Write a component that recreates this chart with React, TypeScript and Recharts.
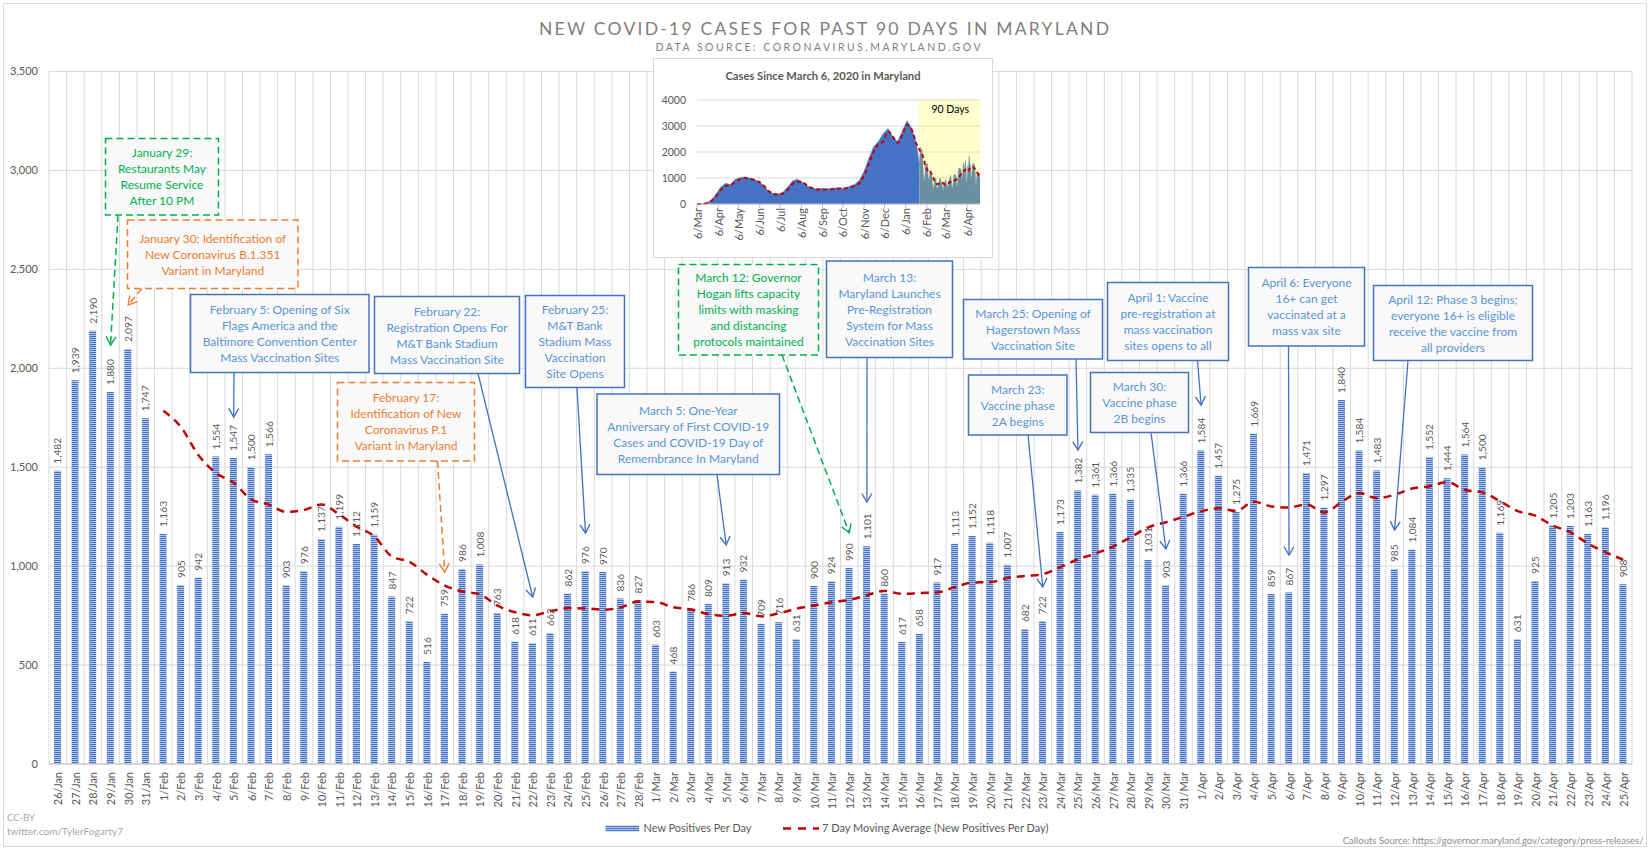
import React from "react";
import {
  Area,
  Bar,
  CartesianGrid,
  ComposedChart,
  LabelList,
  Line,
  ReferenceArea,
  XAxis,
  YAxis,
} from "recharts";

// ---- main chart data (last 90 days) ----
const dates = [
  "26/Jan", "27/Jan", "28/Jan", "29/Jan", "30/Jan", "31/Jan",
  "1/Feb", "2/Feb", "3/Feb", "4/Feb", "5/Feb", "6/Feb", "7/Feb", "8/Feb", "9/Feb", "10/Feb",
  "11/Feb", "12/Feb", "13/Feb", "14/Feb", "15/Feb", "16/Feb", "17/Feb", "18/Feb", "19/Feb", "20/Feb",
  "21/Feb", "22/Feb", "23/Feb", "24/Feb", "25/Feb", "26/Feb", "27/Feb", "28/Feb",
  "1/Mar", "2/Mar", "3/Mar", "4/Mar", "5/Mar", "6/Mar", "7/Mar", "8/Mar", "9/Mar", "10/Mar",
  "11/Mar", "12/Mar", "13/Mar", "14/Mar", "15/Mar", "16/Mar", "17/Mar", "18/Mar", "19/Mar", "20/Mar",
  "21/Mar", "22/Mar", "23/Mar", "24/Mar", "25/Mar", "26/Mar", "27/Mar", "28/Mar", "29/Mar", "30/Mar", "31/Mar",
  "1/Apr", "2/Apr", "3/Apr", "4/Apr", "5/Apr", "6/Apr", "7/Apr", "8/Apr", "9/Apr", "10/Apr",
  "11/Apr", "12/Apr", "13/Apr", "14/Apr", "15/Apr", "16/Apr", "17/Apr", "18/Apr", "19/Apr", "20/Apr",
  "21/Apr", "22/Apr", "23/Apr", "24/Apr", "25/Apr",
];

const newPositives = [
  1482, 1939, 2190, 1880, 2097, 1747,
  1163, 905, 942, 1554, 1547, 1500, 1566, 903, 976, 1137, 1199, 1112, 1159, 847,
  722, 516, 759, 986, 1008, 763, 618, 611, 662, 862, 976, 970, 836, 827,
  603, 468, 786, 809, 913, 932, 709, 716, 631, 900, 924, 990, 1101, 860, 617, 658,
  917, 1113, 1152, 1118, 1007, 682, 722, 1173, 1382, 1361, 1366, 1335, 1031, 903, 1366,
  1584, 1457, 1275, 1669, 859, 867, 1471, 1297, 1840, 1584, 1483, 985, 1084, 1552, 1444,
  1564, 1500, 1169, 631, 925, 1205, 1203, 1163, 1196, 908,
];

const movingAverage = [
  null, null, null, null, null, null,
  1785, 1703, 1561, 1470, 1422, 1337, 1311, 1274, 1284, 1312, 1261, 1199, 1150, 1048,
  1022, 956, 902, 872, 857, 800, 767, 752, 772, 787, 786, 780, 791, 821,
  819, 792, 781, 757, 749, 763, 746, 762, 785, 801, 818, 829, 853, 875, 860, 864,
  867, 894, 917, 919, 940, 950, 959, 995, 1034, 1064, 1099, 1146, 1196, 1222, 1249,
  1278, 1292, 1279, 1326, 1302, 1297, 1312, 1271, 1325, 1370, 1343, 1361, 1392, 1404, 1425,
  1385, 1373, 1328, 1278, 1255, 1205, 1171, 1114, 1070, 1033,
];

const yTicks = [0, 500, 1000, 1500, 2000, 2500, 3000, 3500];

// ---- inset data (since March 6, 2020), weekly readings before the 90-day window ----
const insetWeekDays = [
  0, 7, 14, 21, 28, 35, 42, 49, 56, 63, 70, 77, 84, 91, 98, 105, 112, 119, 126, 133, 140, 147, 154, 161,
  168, 175, 182, 189, 196, 203, 210, 217, 224, 231, 238, 245, 252, 259, 266, 273, 280, 287, 294, 301, 308, 315, 322,
];
const insetWeekCases = [
  2, 5, 40, 150, 380, 650, 800, 750, 950, 1000, 1050, 1000, 950, 850, 700, 480, 400, 380, 450, 650, 880, 950, 850, 700,
  620, 580, 600, 580, 600, 620, 600, 620, 680, 750, 900, 1250, 1750, 2200, 2400, 2700, 2900, 2600, 2400, 2800, 3200, 2900, 2300,
];
const insetWeekAverage = [
  0, 5, 30, 120, 300, 550, 700, 720, 850, 950, 1000, 980, 920, 850, 700, 500, 400, 360, 400, 560, 760, 860, 850, 720,
  620, 560, 560, 560, 560, 590, 600, 600, 640, 700, 800, 1100, 1550, 2000, 2300, 2400, 2800, 2600, 2350, 2650, 3050, 2850, 2300,
];
const windowStartDay = 326; // 26 Jan 2021, days since 6 Mar 2020
const insetYTicks = [0, 1000, 2000, 3000, 4000];
const insetTickDays = [0, 31, 61, 92, 122, 153, 184, 214, 245, 275, 306, 337, 365, 396];
const insetTickLabels = ["6/Mar", "6/Apr", "6/May", "6/Jun", "6/Jul", "6/Aug", "6/Sep", "6/Oct", "6/Nov", "6/Dec", "6/Jan", "6/Feb", "6/Mar", "6/Apr"];

const rows = dates.map((date, i) => ({ date, cases: newPositives[i], ma: movingAverage[i] }));

const insetRows = [
  ...insetWeekDays.map((day, i) => ({ day, early: insetWeekCases[i], ma: insetWeekAverage[i] })),
  ...newPositives.map((v, i) => ({
    day: windowStartDay + i,
    early: i === 0 ? v : undefined,
    late: v,
    ma: movingAverage[i] ?? undefined,
  })),
];

// ---- layout ----
const W = 1650;
const H = 849;
const PLOT_LEFT = 49;
const PLOT_RIGHT = 1632;
const PLOT_TOP = 71.5;
const PLOT_BOTTOM = 764;
const FONT = "Lato, 'Open Sans', sans-serif";
const BLUE = "#4472C4";
const STRIPE_LIGHT = "#B4C6EA";
const BOX_BLUE_TEXT = "#5B95D5";
const GREEN = "#00B050";
const ORANGE = "#ED7D31";

const band = (PLOT_RIGHT - PLOT_LEFT) / dates.length;
const xOfDay = (label: string) => PLOT_LEFT + (dates.indexOf(label) + 0.5) * band;

type Callout = {
  lines: string[];
  x: number;
  y: number;
  w: number;
  h: number;
  kind: "blue" | "green" | "orange";
  from: [number, number];
  day: string;
  tipY: number;
};

const callouts: Callout[] = [
  { lines: ["January 29:", "Restaurants May", "Resume Service", "After 10 PM"], x: 105.5, y: 138.5, w: 113, h: 76.5, kind: "green", from: [118, 215], day: "29/Jan", tipY: 345 },
  { lines: ["January 30: Identification of", "New Coronavirus B.1.351", "Variant in Maryland"], x: 127.5, y: 220, w: 170.5, h: 68.5, kind: "orange", from: [142, 288.5], day: "30/Jan", tipY: 305 },
  { lines: ["February 5: Opening of Six", "Flags America and the", "Baltimore Convention Center", "Mass Vaccination Sites"], x: 190.5, y: 294.5, w: 178.5, h: 78, kind: "blue", from: [234, 372.5], day: "5/Feb", tipY: 417 },
  { lines: ["February 22:", "Registration Opens For", "M&T Bank Stadium", "Mass Vaccination Site"], x: 374.5, y: 296.5, w: 145, h: 77, kind: "blue", from: [478, 373.5], day: "22/Feb", tipY: 597 },
  { lines: ["February 17:", "Identification of New", "Coronavirus P.1", "Variant in Maryland"], x: 337.5, y: 382.5, w: 137, h: 78.5, kind: "orange", from: [437.5, 461], day: "17/Feb", tipY: 572 },
  { lines: ["February 25:", "M&T Bank", "Stadium Mass", "Vaccination", "Site Opens"], x: 525.5, y: 295.5, w: 99, h: 92, kind: "blue", from: [577, 387.5], day: "25/Feb", tipY: 533 },
  { lines: ["March 5: One-Year", "Anniversary of First COVID-19", "Cases and COVID-19 Day of", "Remembrance In Maryland"], x: 597, y: 394, w: 182.5, h: 80.5, kind: "blue", from: [717, 474.5], day: "5/Mar", tipY: 545 },
  { lines: ["March 12: Governor", "Hogan lifts capacity", "limits with masking", "and distancing", "protocols maintained"], x: 678.5, y: 264.5, w: 140, h: 90.5, kind: "green", from: [782, 355], day: "12/Mar", tipY: 533 },
  { lines: ["March 13:", "Maryland Launches", "Pre-Registration", "System for Mass", "Vaccination Sites"], x: 826.5, y: 261, w: 126, h: 96.5, kind: "blue", from: [867, 357.5], day: "13/Mar", tipY: 502 },
  { lines: ["March 25: Opening of", "Hagerstown Mass", "Vaccination Site"], x: 963.5, y: 299.5, w: 139, h: 59.5, kind: "blue", from: [1076, 359], day: "25/Mar", tipY: 450 },
  { lines: ["March 23:", "Vaccine phase", "2A begins"], x: 968.5, y: 375, w: 98.5, h: 60, kind: "blue", from: [1028, 435], day: "23/Mar", tipY: 587 },
  { lines: ["April 1: Vaccine", "pre-registration at", "mass vaccination", "sites opens to all"], x: 1107.5, y: 282.5, w: 121, h: 78, kind: "blue", from: [1197.5, 360.5], day: "1/Apr", tipY: 405 },
  { lines: ["March 30:", "Vaccine phase", "2B begins"], x: 1090.5, y: 372.5, w: 98, h: 60, kind: "blue", from: [1151, 432.5], day: "30/Mar", tipY: 549 },
  { lines: ["April 6: Everyone", "16+ can get", "vaccinated at a", "mass vax site"], x: 1248.5, y: 267.5, w: 116, h: 78.5, kind: "blue", from: [1288.5, 346], day: "6/Apr", tipY: 555 },
  { lines: ["April 12: Phase 3 begins;", "everyone 16+ is eligible", "receive the vaccine from", "all providers"], x: 1373.5, y: 285.5, w: 159, h: 75, kind: "blue", from: [1408, 360.5], day: "12/Apr", tipY: 530 },
];

const styleOf = (kind: Callout["kind"]) =>
  kind === "green"
    ? { stroke: GREEN, text: GREEN, dash: "7 4", marker: "url(#arrow-green)" }
    : kind === "orange"
    ? { stroke: ORANGE, text: ORANGE, dash: "7 4", marker: "url(#arrow-orange)" }
    : { stroke: BLUE, text: BOX_BLUE_TEXT, dash: undefined, marker: "url(#arrow-blue)" };

const DateTick = (props: any) => {
  const { x, y, payload } = props;
  return (
    <text
      x={x}
      y={y}
      transform={`rotate(-90 ${x} ${y})`}
      textAnchor="end"
      dominantBaseline="central"
      fontSize={11}
      fontFamily={FONT}
      fill="#595959"
    >
      {payload.value}
    </text>
  );
};

const InsetTick = (props: any) => {
  const { x, y, payload } = props;
  const label = insetTickLabels[insetTickDays.indexOf(payload.value)] ?? "";
  return (
    <text
      x={x}
      y={y}
      transform={`rotate(-90 ${x} ${y})`}
      textAnchor="end"
      dominantBaseline="central"
      fontSize={11}
      fontFamily={FONT}
      fill="#595959"
    >
      {label}
    </text>
  );
};

const ValueLabel = (props: any) => {
  const { x, y, width, value } = props;
  if (value == null) return null;
  const cx = Number(x) + Number(width) / 2;
  const ty = Number(y) - 7;
  return (
    <text
      x={cx}
      y={ty}
      transform={`rotate(-90 ${cx} ${ty})`}
      textAnchor="start"
      dominantBaseline="central"
      fontSize={10.2}
      fontFamily={FONT}
      fill="#595959"
    >
      {Number(value).toLocaleString("en-US")}
    </text>
  );
};

function InsetChart() {
  return (
    <ComposedChart width={340} height={200} data={insetRows} margin={{ top: 42, right: 13, left: 0, bottom: 0 }}>
      <CartesianGrid stroke="#D9D9D9" vertical={false} />
      <ReferenceArea x1={windowStartDay - 1} x2={418} y1={0} y2={4000} fill="#FFFF00" fillOpacity={0.2} stroke="none" ifOverflow="hidden"
        label={{ value: "90 Days", position: "insideTop", fill: "#000000", fontSize: 10.5, fontFamily: FONT, offset: 6 }} />
      <XAxis
        type="number"
        dataKey="day"
        domain={[0, 415]}
        ticks={insetTickDays}
        interval={0}
        height={54}
        tick={InsetTick}
        tickSize={4}
        tickMargin={0}
        stroke="#BFBFBF"
      />
      <YAxis
        width={44}
        domain={[0, 4000]}
        ticks={insetYTicks}
        tickLine={false}
        axisLine={false}
        tickMargin={5}
        tick={{ fontSize: 10.5, fill: "#595959", fontFamily: FONT }}
      />
      <Area dataKey="early" type="linear" fill={BLUE} fillOpacity={1} stroke={BLUE} strokeWidth={0.5} isAnimationActive={false} dot={false} />
      <Area dataKey="late" type="linear" fill="#6A8FA2" fillOpacity={1} stroke="#6A8FA2" strokeWidth={0.5} isAnimationActive={false} dot={false} />
      <Line dataKey="ma" type="monotone" stroke="#C00000" strokeWidth={2} strokeDasharray="4 3" dot={false} connectNulls isAnimationActive={false} />
    </ComposedChart>
  );
}

export default function App() {
  return (
    <div style={{ position: "relative", width: W, height: H, background: "#ffffff", fontFamily: FONT, overflow: "hidden" }}>
      <style>{`body{margin:0;}`}</style>

      <div style={{ position: "absolute", left: 0, top: 0 }}>
        <ComposedChart
          width={W}
          height={H}
          data={rows}
          margin={{ top: PLOT_TOP, right: W - PLOT_RIGHT, left: 0, bottom: 0 }}
        >
          <defs>
            <pattern id="hstripe" patternUnits="userSpaceOnUse" width="8" height="2">
              <rect width="8" height="2" fill={STRIPE_LIGHT} />
              <rect width="8" height="1" fill={BLUE} />
            </pattern>
          </defs>
          <CartesianGrid
            stroke="#D9D9D9"
            verticalCoordinatesGenerator={() =>
              Array.from({ length: dates.length + 1 }, (_, i) => PLOT_LEFT + i * band)
            }
          />
          <XAxis
            dataKey="date"
            interval={0}
            height={H - PLOT_BOTTOM}
            tickLine={false}
            stroke="#BFBFBF"
            tick={DateTick}
          />
          <YAxis
            width={PLOT_LEFT}
            domain={[0, 3500]}
            ticks={yTicks}
            tickLine={false}
            axisLine={false}
            tickMargin={5}
            tickFormatter={(v: number) => v.toLocaleString("en-US")}
            tick={{ fontSize: 11, fill: "#595959", fontFamily: FONT }}
          />
          <Bar dataKey="cases" fill="url(#hstripe)" barSize={7} isAnimationActive={false}>
            <LabelList dataKey="cases" content={ValueLabel} />
          </Bar>
          <Line
            dataKey="ma"
            type="monotone"
            stroke="#C00000"
            strokeWidth={2.5}
            strokeDasharray="8 6"
            dot={false}
            isAnimationActive={false}
          />
        </ComposedChart>
      </div>

      {/* inset chart */}
      <div
        style={{
          position: "absolute",
          left: 653,
          top: 58,
          width: 340,
          height: 200,
          background: "#ffffff",
          boxShadow: "inset 0 0 0 1px #D9D9D9",
        }}
      >
        <InsetChart />
        <div
          style={{
            position: "absolute",
            left: 0,
            top: 11,
            width: 340,
            textAlign: "center",
            fontSize: 11.2,
            fontWeight: 700,
            color: "#595959",
          }}
        >
          Cases Since March 6, 2020 in Maryland
        </div>
      </div>

      {/* titles, callouts, legend, footers */}
      <svg width={W} height={H} style={{ position: "absolute", left: 0, top: 0, pointerEvents: "none" }}>
        <defs>
          <pattern id="hstripe-legend" patternUnits="userSpaceOnUse" width="8" height="2">
            <rect width="8" height="2" fill={STRIPE_LIGHT} />
            <rect width="8" height="1" fill={BLUE} />
          </pattern>
          {[["blue", BLUE], ["green", GREEN], ["orange", ORANGE]].map(([id, c]) => (
            <marker
              key={id}
              id={`arrow-${id}`}
              viewBox="0 0 12 12"
              refX="10"
              refY="6"
              markerWidth="12"
              markerHeight="12"
              markerUnits="userSpaceOnUse"
              orient="auto"
            >
              <path d="M1.5,1 L10,6 L1.5,11" fill="none" stroke={c} strokeWidth="1.4" />
            </marker>
          ))}
        </defs>

        <rect x={3.5} y={3.5} width={W - 7} height={H - 6} fill="none" stroke="#D9D9D9" />

        <text x={824} y={34.5} textAnchor="middle" fontSize={17.5} fill="#7F7F7F" fontFamily={FONT} textLength={570} lengthAdjust="spacing">
          NEW COVID-19 CASES FOR PAST 90 DAYS IN MARYLAND
        </text>
        <text x={818} y={51} textAnchor="middle" fontSize={10.5} fill="#7F7F7F" fontFamily={FONT} textLength={325} lengthAdjust="spacing">
          DATA SOURCE: CORONAVIRUS.MARYLAND.GOV
        </text>

        {callouts.map((c, k) => {
          const s = styleOf(c.kind);
          const cy = c.y + c.h / 2;
          return (
            <g key={k}>
              <line
                x1={c.from[0]}
                y1={c.from[1]}
                x2={xOfDay(c.day)}
                y2={c.tipY}
                stroke={s.stroke}
                strokeWidth={c.kind === "blue" ? 1.3 : 1.5}
                strokeDasharray={s.dash}
                markerEnd={s.marker}
              />
              <rect x={c.x} y={c.y} width={c.w} height={c.h} fill="#F9F9F9" stroke={s.stroke} strokeWidth={1.5} strokeDasharray={s.dash} />
              {c.lines.map((ln, j) => (
                <text
                  key={j}
                  x={c.x + c.w / 2}
                  y={cy + (j - (c.lines.length - 1) / 2) * 16}
                  textAnchor="middle"
                  dominantBaseline="central"
                  fontSize={12}
                  fontFamily={FONT}
                  fill={s.text}
                >
                  {ln}
                </text>
              ))}
            </g>
          );
        })}

        {/* legend */}
        <rect x={605.5} y={825.5} width={33.5} height={6} fill="url(#hstripe-legend)" />
        <text x={643.5} y={832.3} fontSize={11} fill="#595959" fontFamily={FONT} textLength={108} lengthAdjust="spacingAndGlyphs">
          New Positives Per Day
        </text>
        <line x1={783} y1={828.5} x2={819} y2={828.5} stroke="#C00000" strokeWidth={2.5} strokeDasharray="8 7" />
        <text x={822} y={832.3} fontSize={11} fill="#595959" fontFamily={FONT} textLength={226.5} lengthAdjust="spacingAndGlyphs">
          7 Day Moving Average (New Positives Per Day)
        </text>

        {/* footers */}
        <text x={7} y={820.5} fontSize={9.5} fill="#A6A6A6" fontFamily={FONT}>CC-BY</text>
        <text x={7} y={834.5} fontSize={9.5} fill="#A6A6A6" fontFamily={FONT} textLength={116} lengthAdjust="spacingAndGlyphs">
          twitter.com/TylerFogarty7
        </text>
        <text x={1643.5} y={843.5} textAnchor="end" fontSize={9.5} fill="#8C8C8C" fontFamily={FONT}>
          Callouts Source: https://governor.maryland.gov/category/press-releases/
        </text>
      </svg>
    </div>
  );
}
